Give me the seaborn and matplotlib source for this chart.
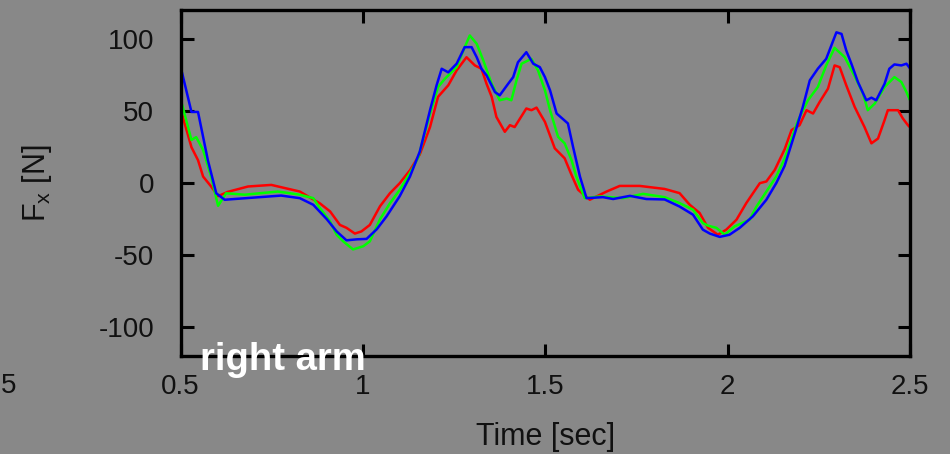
import numpy as np
import pandas as pd
import matplotlib
matplotlib.use("Agg")
import matplotlib.pyplot as plt
import seaborn as sns

# ---- data ----
t_red = [0.504, 0.530, 0.548, 0.562, 0.584, 0.603, 0.630, 0.685, 0.749, 0.827, 0.882, 0.910, 0.937, 0.955,
         0.978, 0.996, 1.019, 1.047, 1.074, 1.101, 1.129, 1.156, 1.184, 1.206, 1.234, 1.257, 1.284, 1.307,
         1.325, 1.339, 1.353, 1.366, 1.389, 1.403, 1.416, 1.448, 1.462, 1.476, 1.499, 1.526, 1.553, 1.572,
         1.590, 1.622, 1.668, 1.704, 1.759, 1.827, 1.868, 1.896, 1.923, 1.946, 1.973, 1.996, 2.024, 2.051,
         2.088, 2.106, 2.129, 2.156, 2.175, 2.197, 2.216, 2.234, 2.252, 2.275, 2.293, 2.307, 2.325, 2.348,
         2.375, 2.394, 2.412, 2.430, 2.439, 2.467, 2.480, 2.494, 2.499]
f_red = [48, 25, 16, 4.6, -2.3, -9, -6, -2.3, -1.2, -5.8, -14, -19.6, -29, -31,
         -35, -33.5, -29, -16, -7, 0, 9, 20, 39, 60, 68, 78.4, 87.5, 81.8,
         79.5, 69, 60, 46, 35.7, 40.3, 39, 51.9, 50.7, 52.5, 42.6, 24.2, 17.3, 5.7,
         -4.6, -11.5, -5.8, -1.9, -1.9, -4, -6.9, -15, -20.7, -31, -35.8, -32.3, -25.4, -13.8,
         0, 1.2, 9.2, 23.5, 36.9, 40.3, 50.7, 48.4, 56.4, 65.7, 81.8, 80.6, 68, 53,
         39, 27.7, 31, 43.8, 50.7, 50.7, 45, 40.3, 39]

t_green = [0.504, 0.530, 0.543, 0.562, 0.584, 0.603, 0.625, 0.676, 0.767, 0.827, 0.864, 0.882, 0.910, 0.928,
           0.946, 0.973, 1.001, 1.019, 1.047, 1.074, 1.101, 1.129, 1.152, 1.184, 1.206, 1.225, 1.257, 1.275,
           1.293, 1.312, 1.330, 1.353, 1.375, 1.394, 1.407, 1.421, 1.435, 1.462, 1.480, 1.499, 1.513, 1.535,
           1.553, 1.572, 1.585, 1.608, 1.649, 1.713, 1.768, 1.827, 1.868, 1.905, 1.932, 1.946, 1.969, 1.992,
           2.019, 2.060, 2.079, 2.106, 2.133, 2.156, 2.193, 2.220, 2.247, 2.270, 2.293, 2.321, 2.347, 2.371,
           2.384, 2.403, 2.430, 2.457, 2.476, 2.490, 2.499]
f_green = [55, 30, 32, 23, 4.6, -15.7, -7, -8, -5.8, -8, -10.4, -17.3, -26.6, -35.8,
           -40.4, -46, -43.8, -40.4, -25, -14, -4.6, 7, 18, 48.4, 66.8, 72.6, 80.6, 92,
           102.6, 96.8, 85.3, 69, 57.6, 58.8, 57.6, 71.4, 83, 86.4, 78.4, 64.5, 50.7, 32.2,
           27.7, 16, 4.6, -10.4, -9.2, -10.4, -7.4, -9.7, -13.8, -18.4, -27.7, -29.5, -31, -35.8,
           -30, -25.4, -16.2, -5.8, 4.6, 17, 43.8, 57.6, 66.8, 81.8, 94, 87.5, 74.9, 62.2,
           50.7, 55.3, 66.8, 73.7, 70.3, 63.3, 58]

t_blue = [0.504, 0.530, 0.548, 0.575, 0.598, 0.621, 0.776, 0.827, 0.864, 0.901, 0.928, 0.955, 0.983, 1.010,
          1.038, 1.065, 1.101, 1.129, 1.156, 1.184, 1.202, 1.216, 1.234, 1.257, 1.279, 1.298, 1.312, 1.325,
          1.339, 1.362, 1.375, 1.398, 1.412, 1.425, 1.448, 1.467, 1.485, 1.499, 1.513, 1.531, 1.562, 1.576,
          1.595, 1.613, 1.658, 1.686, 1.732, 1.777, 1.827, 1.868, 1.905, 1.932, 1.951, 1.978, 2.005, 2.033,
          2.069, 2.106, 2.133, 2.156, 2.184, 2.206, 2.225, 2.247, 2.270, 2.298, 2.312, 2.325, 2.339, 2.357,
          2.380, 2.394, 2.407, 2.430, 2.443, 2.457, 2.476, 2.490, 2.499]
f_blue = [77, 49.5, 49.5, 16, -7, -11.5, -8.6, -10.4, -15, -25, -33.5, -39.7, -39, -38.7,
          -32, -23, -9, 4.6, 22, 50.7, 68, 79.5, 77, 83, 94.5, 94.5, 87.5, 79.5,
          74.9, 63.3, 61, 69, 73.7, 84, 91, 83, 80.6, 73.7, 64.5, 48.4, 41.5, 25.3,
          4.6, -10.4, -9.7, -11, -8.8, -11, -11.3, -16.2, -21.9, -32.3, -35, -37.3, -35.8, -31,
          -23, -11.5, 0, 12, 34.6, 53, 71.4, 79.5, 86.4, 104.8, 103.7, 92.2, 83, 70.3,
          57.6, 59.4, 57.6, 69, 79.5, 82.5, 81.8, 83, 80]

series_names = ["red", "green", "blue"]
x_ticks = [0.5, 1, 1.5, 2, 2.5]
x_tick_labels = ["0.5", "1", "1.5", "2", "2.5"]
y_ticks = [-100, -50, 0, 50, 100]
y_tick_labels = ["-100", "-50", "0", "50", "100"]

# ---- build long table ----
frames = []
for name, tt, ff in zip(series_names, [t_red, t_green, t_blue], [f_red, f_green, f_blue]):
    frames.append(pd.DataFrame({"t": tt, "F": ff, "series": name}))
df = pd.concat(frames, ignore_index=True)

BG = "#888888"
sns.set_theme(style="ticks")
plt.rcParams["font.family"] = ["Liberation Sans", "DejaVu Sans"]
plt.rcParams["mathtext.fontset"] = "custom"
plt.rcParams["mathtext.rm"] = "Liberation Sans"

fig = plt.figure(figsize=(9.5, 4.54), dpi=100, facecolor=BG)
ax = fig.add_axes([0.19, 0.216, 0.768, 0.761])
ax.set_facecolor(BG)

palette = {"red": "#ff0000", "green": "#00ff00", "blue": "#0000ff"}
sns.lineplot(data=df, x="t", y="F", hue="series", hue_order=series_names,
             palette=palette, estimator=None, sort=False, linewidth=1.8,
             legend=False, ax=ax)

ax.set_xlim(0.5, 2.5)
ax.set_ylim(-120, 120)
ax.set_xticks(x_ticks)
ax.set_xticklabels(x_tick_labels)
ax.set_yticks(y_ticks)
ax.set_yticklabels(y_tick_labels)

for s in ax.spines.values():
    s.set_visible(True)
    s.set_linewidth(2.4)
    s.set_color("black")
ax.tick_params(axis="both", which="major", direction="in", length=9, width=2.2,
               top=True, right=True, labelsize=20, labelcolor="#111111", color="black")
ax.tick_params(axis="x", pad=13)
ax.tick_params(axis="y", pad=19)

ax.set_xlabel("Time [sec]", fontsize=22, color="#111111", labelpad=16)
ax.set_ylabel(r"F$_{\mathrm{x}}$ [N]", fontsize=22, color="#111111", labelpad=32)

# panel annotation
ax.text(0.027, -0.012, "right arm", transform=ax.transAxes, fontsize=27.5,
        fontweight="bold", color="white", ha="left", va="center")

# partially visible tick label from neighbouring panel
fig.text(0.5 / 950, 1 - 386 / 454, "5", fontsize=20, color="#111111", ha="left", va="center")

fig.savefig("out.png", dpi=100, facecolor=BG)
